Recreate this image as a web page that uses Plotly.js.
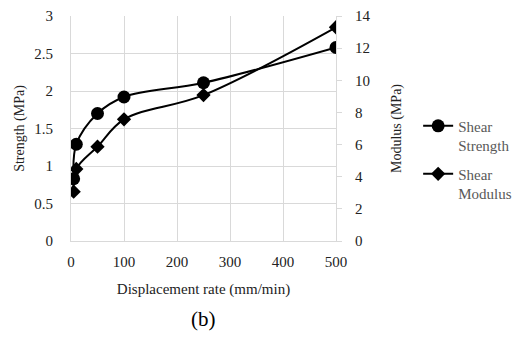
<!DOCTYPE html>
<html><head><meta charset="utf-8">
<script src="https://cdn.plot.ly/plotly-3.0.1.min.js"></script>
<style>
html,body{margin:0;padding:0;background:#fff;}
#c{width:519px;height:338px;}
#c svg text{font-family:"Liberation Serif","Times New Roman",serif !important;}
</style>
</head><body><div id="c"></div>
<script>
var rate = [5, 10, 50, 100, 250, 500];
var shearStrength = [0.83, 1.29, 1.70, 1.92, 2.11, 2.58];
var shearModulus = [3.07, 4.48, 5.87, 7.57, 9.08, 13.3];
var xTicks = [0, 100, 200, 300, 400, 500];
var leftTicks = [0, 0.5, 1, 1.5, 2, 2.5, 3];
var rightTicks = [0, 2, 4, 6, 8, 10, 12, 14];

var FAM = 'Liberation Serif';
var grid = '#d9d9d9';
function f(size, color) { return {family: FAM, size: size, color: color}; }
var traces = [
  {x: rate, y: shearStrength, name: 'Shear<br>Strength', legendgroup: 'a', type: 'scatter', mode: 'lines+markers',
   line: {color: '#000', width: 2, shape: 'spline', smoothing: 1}, marker: {symbol: 'circle', size: 13, color: '#000'}, yaxis: 'y'},
  {x: rate, y: shearModulus, name: 'Shear<br>Modulus', legendgroup: 'b', type: 'scatter', mode: 'lines+markers',
   line: {color: '#000', width: 2, shape: 'spline', smoothing: 1}, marker: {symbol: 'diamond', size: 11, color: '#000'}, yaxis: 'y2'}
];
var layout = {
  width: 519, height: 338,
  margin: {l: 71, r: 183, t: 16, b: 97, autoexpand: false},
  paper_bgcolor: '#fff', plot_bgcolor: '#fff',
  font: f(15, '#222'),
  showlegend: true,
  legend: {x: 1.31, y: 0.362, xanchor: 'left', yanchor: 'middle', valign: 'top', traceorder: 'grouped', font: f(15, '#595959'), tracegroupgap: 6, itemwidth: 30},
  xaxis: {range: [0, 500], tickvals: xTicks, ticktext: xTicks.map(String), tickfont: f(15, '#222'), showgrid: true, gridcolor: grid, showline: true, linecolor: grid, zeroline: false, ticks: '',
          ticklabelstandoff: 7, automargin: false,
          title: {text: 'Displacement rate (mm/min)', font: f(15, '#222'), standoff: 14}},
  yaxis: {range: [0, 3], tickvals: leftTicks, ticktext: leftTicks.map(String), tickfont: f(15, '#222'), showgrid: true, gridcolor: grid, showline: true, linecolor: grid, zeroline: false, ticks: '',
          ticklabelstandoff: 14, automargin: false,
          title: {text: 'Strength (MPa)', font: f(14, '#222'), standoff: 6}},
  yaxis2: {range: [0, 14], tickvals: rightTicks, ticktext: rightTicks.map(String), tickfont: f(15, '#222'), overlaying: 'y', side: 'right', showgrid: false, showline: true, linecolor: grid, zeroline: false,
           ticks: 'outside', ticklen: 5, tickcolor: grid, ticklabelstandoff: 10, automargin: false,
           title: {text: 'Modulus (MPa)', font: f(14, '#222'), standoff: 21}},
  annotations: [{text: '(b)', xref: 'paper', yref: 'paper', x: 0.5, y: -0.345, xanchor: 'center', yanchor: 'middle', showarrow: false,
                 font: f(21, '#000')}]
};
Plotly.newPlot('c', traces, layout, {displayModeBar: false, staticPlot: true});
</script></body></html>
